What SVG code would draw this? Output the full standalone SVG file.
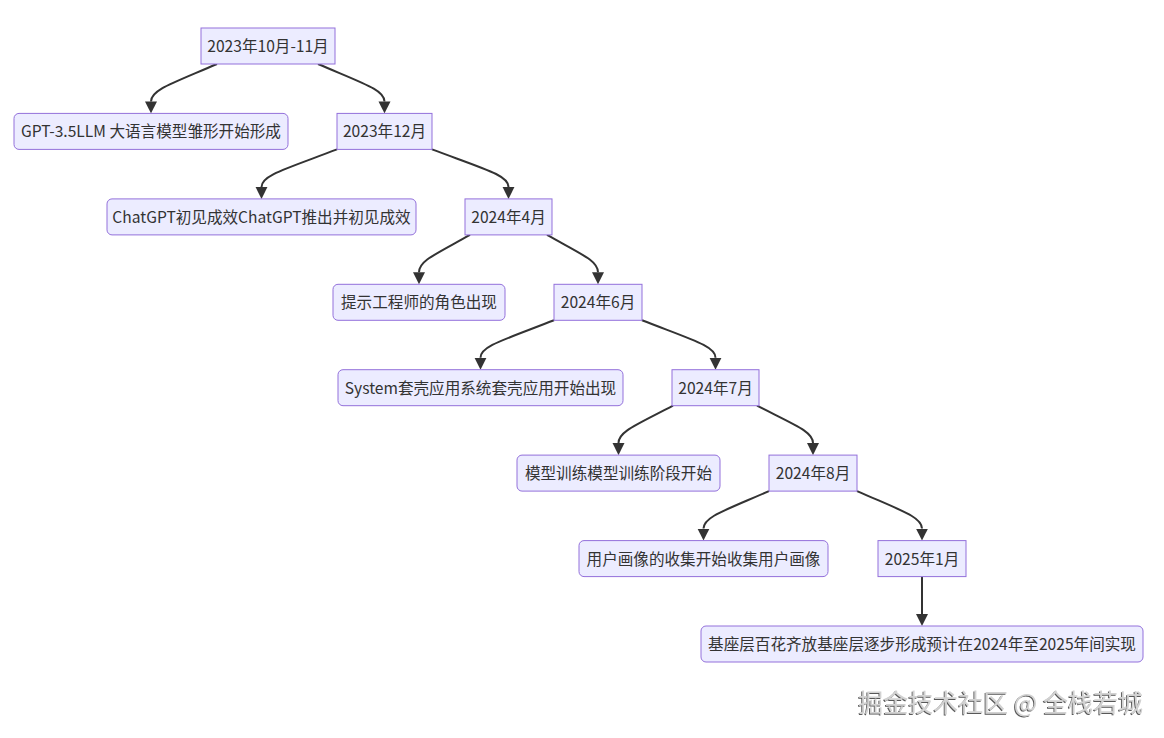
<svg xmlns="http://www.w3.org/2000/svg" width="1164" height="738" viewBox="0 0 1164 738">
<style>
.bg{fill:#ffffff}
.node rect{fill:#ECECFF;stroke:#9370DB;stroke-width:1}
.node text{font-family:"Noto Sans CJK SC","Noto Sans",sans-serif;font-size:15.6px;fill:#333333;text-anchor:middle}
.edge{fill:none;stroke:#333333;stroke-width:2}
.wm{font-family:"Noto Sans CJK SC","Noto Sans",sans-serif;font-size:25px;fill:#d2d2d2;text-anchor:end}
</style>
<defs>
<marker id="arrow" viewBox="0 0 10 10" refX="0" refY="5" markerUnits="userSpaceOnUse" markerWidth="12" markerHeight="12.5" orient="auto">
<path d="M0,0 L10,5 L0,10 z" fill="#333333"/>
</marker>
<filter id="emboss" x="-5%" y="-20%" width="110%" height="140%">
<feDropShadow dx="-1" dy="1" stdDeviation="0.6" flood-color="#444444" flood-opacity="0.9"/>
</filter>
</defs>
<rect class="bg" x="0" y="0" width="1164" height="738"/>
<g id="edges">
<path class="edge" marker-end="url(#arrow)" d="M217,64 C170.8,84 151,90 151,101.4"/>
<path class="edge" marker-end="url(#arrow)" d="M318,64 C364.6,84 384.5,90 384.5,101.4"/>
<path class="edge" marker-end="url(#arrow)" d="M337,149.4 C284.2,169.4 261.5,175.4 261.5,186.9"/>
<path class="edge" marker-end="url(#arrow)" d="M432,149.4 C485.6,169.4 508.5,175.4 508.5,186.9"/>
<path class="edge" marker-end="url(#arrow)" d="M470,234.9 C434.3,254.9 419,260.9 419,272.3"/>
<path class="edge" marker-end="url(#arrow)" d="M547,234.9 C582.7,254.9 598,260.9 598,272.3"/>
<path class="edge" marker-end="url(#arrow)" d="M554,320.3 C502.6,340.3 480.5,346.3 480.5,357.7"/>
<path class="edge" marker-end="url(#arrow)" d="M642,320.3 C693.5,340.3 715.5,346.3 715.5,357.7"/>
<path class="edge" marker-end="url(#arrow)" d="M673,405.7 C634.9,425.7 618.5,431.7 618.5,443.1"/>
<path class="edge" marker-end="url(#arrow)" d="M757,405.7 C796.2,425.7 813,431.7 813,443.1"/>
<path class="edge" marker-end="url(#arrow)" d="M769,491.1 C723.2,511.1 703.5,517.1 703.5,528.6"/>
<path class="edge" marker-end="url(#arrow)" d="M857,491.1 C902.5,511.1 922,517.1 922,528.6"/>
<path class="edge" marker-end="url(#arrow)" d="M922,576.6 L922,614"/>
</g>
<g id="n1" class="node"><rect x="201" y="28" width="134" height="36"/><text x="268" y="52">2023年10月-11月</text></g>
<g id="e1" class="node"><rect x="14" y="113.4" width="274" height="36" rx="5" ry="5"/><text x="151" y="137.4">GPT-3.5LLM 大语言模型雏形开始形成</text></g>
<g id="n2" class="node"><rect x="337" y="113.4" width="95" height="36"/><text x="384.5" y="137.4">2023年12月</text></g>
<g id="e2" class="node"><rect x="107" y="198.9" width="309" height="36" rx="5" ry="5"/><text x="261.5" y="222.9">ChatGPT初见成效ChatGPT推出并初见成效</text></g>
<g id="n3" class="node"><rect x="465" y="198.9" width="87" height="36"/><text x="508.5" y="222.9">2024年4月</text></g>
<g id="e3" class="node"><rect x="333" y="284.3" width="172" height="36" rx="5" ry="5"/><text x="419" y="308.3">提示工程师的角色出现</text></g>
<g id="n4" class="node"><rect x="554" y="284.3" width="88" height="36"/><text x="598" y="308.3">2024年6月</text></g>
<g id="e4" class="node"><rect x="338" y="369.7" width="285" height="36" rx="5" ry="5"/><text x="480.5" y="393.7">System套壳应用系统套壳应用开始出现</text></g>
<g id="n5" class="node"><rect x="672" y="369.7" width="87" height="36"/><text x="715.5" y="393.7">2024年7月</text></g>
<g id="e5" class="node"><rect x="517" y="455.1" width="203" height="36" rx="5" ry="5"/><text x="618.5" y="479.1">模型训练模型训练阶段开始</text></g>
<g id="n6" class="node"><rect x="769" y="455.1" width="88" height="36"/><text x="813" y="479.1">2024年8月</text></g>
<g id="e6" class="node"><rect x="579" y="540.6" width="249" height="36" rx="5" ry="5"/><text x="703.5" y="564.6">用户画像的收集开始收集用户画像</text></g>
<g id="n7" class="node"><rect x="878" y="540.6" width="88" height="36"/><text x="922" y="564.6">2025年1月</text></g>
<g id="e7" class="node"><rect x="701" y="626" width="442" height="36" rx="5" ry="5"/><text x="922" y="650">基座层百花齐放基座层逐步形成预计在2024年至2025年间实现</text></g>
<text class="wm" x="1143" y="712" filter="url(#emboss)">掘金技术社区 @ 全栈若城</text>
</svg>
